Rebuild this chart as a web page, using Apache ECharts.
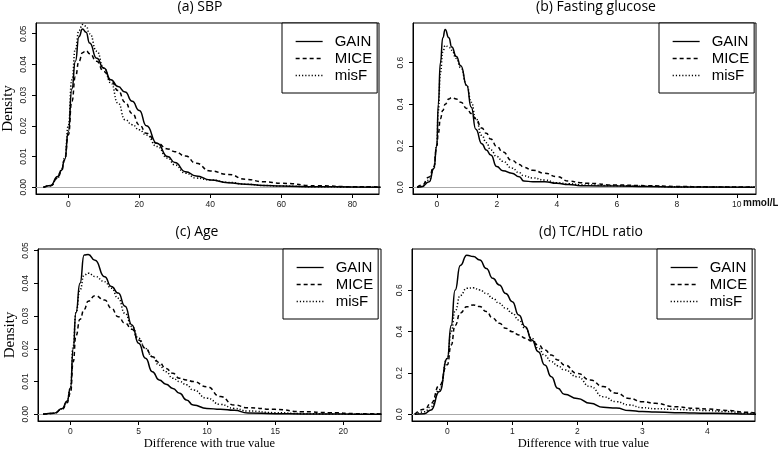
<!DOCTYPE html>
<html>
<head>
<meta charset="utf-8">
<script src="https://cdn.jsdelivr.net/npm/echarts@6/dist/echarts.min.js"></script>
<style>html,body{margin:0;padding:0;background:#fff}#c{width:778px;height:451px}</style>
</head>
<body>
<div id="c"></div>
<script>
// ---- (a) SBP ----
const sbpX    = [-7,-5,-3,-2,-1,0,1,2,3,4,5,6,8,10,12,14,16,18,20,22,25,28,30,33,36,40,45,50,55,60,70,80,88];
const sbpGAIN = [0,0.0006,0.0035,0.0055,0.009,0.018,0.032,0.041,0.049,0.0515,0.0505,0.047,0.042,0.0388,0.035,0.0328,0.031,0.028,0.025,0.020,0.0143,0.010,0.0081,0.0051,0.0037,0.0024,0.0015,0.001,0.0006,0.0004,0.0002,0.0001,0];
const sbpMICE = [0,0.0005,0.003,0.005,0.009,0.017,0.028,0.036,0.041,0.0438,0.0445,0.0435,0.041,0.0377,0.0348,0.0315,0.0277,0.024,0.0203,0.0176,0.0143,0.0125,0.0116,0.0102,0.0078,0.0053,0.0042,0.0026,0.0018,0.0013,0.0005,0.0002,0.0001];
const sbpMisF = [0,0.0005,0.003,0.0055,0.0095,0.02,0.035,0.045,0.051,0.053,0.0525,0.050,0.0443,0.0388,0.034,0.0274,0.022,0.0204,0.0187,0.017,0.0133,0.0095,0.0073,0.0046,0.003,0.0024,0.0016,0.001,0.0006,0.0004,0.0002,0.0001,0];
// ---- (b) Fasting glucose ----
const gluX    = [-0.65,-0.5,-0.25,-0.1,0,0.05,0.12,0.2,0.28,0.4,0.5,0.65,0.8,1,1.15,1.3,1.5,1.65,1.8,2,2.2,2.5,2.75,2.9,3.2,3.6,4,4.4,4.8,5,6,7,8,9,10.6];
const gluGAIN = [0,0.003,0.027,0.09,0.2,0.4,0.6,0.72,0.76,0.72,0.675,0.63,0.585,0.49,0.385,0.28,0.21,0.18,0.155,0.1,0.08,0.068,0.051,0.03,0.027,0.027,0.019,0.013,0.008,0.007,0.006,0.004,0.002,0.001,0];
const gluMICE = [0,0.01,0.05,0.1,0.2,0.26,0.33,0.37,0.4,0.425,0.433,0.425,0.41,0.38,0.355,0.33,0.285,0.26,0.232,0.196,0.17,0.13,0.11,0.096,0.082,0.068,0.051,0.03,0.022,0.019,0.011,0.008,0.004,0.002,0.001];
const gluMisF = [0,0.005,0.035,0.09,0.2,0.37,0.55,0.65,0.683,0.675,0.66,0.62,0.575,0.49,0.41,0.332,0.25,0.215,0.18,0.148,0.125,0.093,0.07,0.055,0.045,0.035,0.022,0.017,0.012,0.011,0.008,0.005,0.002,0.001,0];
// ---- (c) Age ----
const ageX    = [-2,-1.2,-0.6,-0.25,0,0.2,0.4,0.7,1,1.3,1.8,2.5,3,3.5,4,4.5,5,5.5,6,6.5,7,7.5,8,8.5,9,10,11,12,13,15,17,19,21,22.8];
const ageGAIN = [0,0.0003,0.0018,0.004,0.008,0.02,0.031,0.04,0.0486,0.0488,0.047,0.042,0.039,0.037,0.033,0.0273,0.0217,0.0171,0.013,0.0105,0.0092,0.0079,0.0064,0.0044,0.0028,0.0018,0.0015,0.0012,0.0004,0.0002,0.0001,0.0001,0,0];
const ageMICE = [0,0.0003,0.0016,0.0035,0.0065,0.016,0.024,0.029,0.032,0.0345,0.0362,0.0349,0.0324,0.0298,0.0278,0.026,0.0227,0.0201,0.0176,0.0158,0.014,0.0125,0.011,0.0105,0.01,0.0084,0.0054,0.0028,0.002,0.0015,0.0008,0.0005,0.0002,0.0001];
const ageMisF = [0,0.0003,0.0017,0.004,0.008,0.021,0.031,0.038,0.0425,0.0431,0.0421,0.0405,0.0385,0.0354,0.0308,0.0268,0.0232,0.0201,0.0176,0.015,0.013,0.011,0.01,0.009,0.0074,0.0049,0.003,0.0018,0.001,0.0005,0.0002,0.0001,0,0];
// ---- (d) TC/HDL ratio ----
const tcX    = [-0.5,-0.35,-0.25,-0.12,0,0.06,0.12,0.2,0.3,0.4,0.5,0.6,0.7,0.8,0.9,1,1.1,1.2,1.3,1.4,1.5,1.6,1.7,1.8,2,2.2,2.4,2.6,2.8,3,3.2,3.5,3.8,4,4.3,4.6,4.75];
const tcGAIN = [0,0.003,0.021,0.11,0.27,0.43,0.6,0.72,0.77,0.763,0.747,0.706,0.658,0.626,0.585,0.545,0.48,0.424,0.36,0.303,0.239,0.182,0.126,0.097,0.077,0.053,0.034,0.03,0.018,0.013,0.011,0.008,0.006,0.005,0.004,0.002,0];
const tcMICE = [0,0.025,0.053,0.14,0.24,0.335,0.43,0.49,0.52,0.529,0.521,0.497,0.465,0.44,0.416,0.4,0.384,0.368,0.355,0.335,0.311,0.287,0.263,0.239,0.198,0.166,0.134,0.102,0.077,0.061,0.053,0.037,0.029,0.026,0.019,0.01,0.006];
const tcMisF = [0,0.012,0.037,0.12,0.27,0.4,0.5,0.575,0.61,0.612,0.602,0.585,0.561,0.537,0.513,0.489,0.456,0.416,0.368,0.319,0.285,0.255,0.235,0.215,0.182,0.134,0.085,0.061,0.045,0.032,0.027,0.024,0.021,0.018,0.013,0.005,0.003];

const methods = ['GAIN','MICE','misF'];
const titles = ['(a) SBP','(b) Fasting glucose','(c) Age','(d) TC/HDL ratio'];
const xTicks = [[0,20,40,60,80],[0,2,4,6,8,10],[0,5,10,15,20],[0,1,2,3,4]];
const yTicks = [[0,0.01,0.02,0.03,0.04,0.05],[0,0.2,0.4,0.6],[0,0.01,0.02,0.03,0.04,0.05],[0,0.2,0.4,0.6]];
const yDigits = [2,1,2,1];

const panels = [
  {x: sbpX, ys: [sbpGAIN, sbpMICE, sbpMisF]},
  {x: gluX, ys: [gluGAIN, gluMICE, gluMisF]},
  {x: ageX, ys: [ageGAIN, ageMICE, ageMisF]},
  {x: tcX,  ys: [tcGAIN,  tcMICE,  tcMisF]}
];

// layout (pixels)
const gridPos = [
  {left: 36,  top: 23,  width: 343, height: 171},
  {left: 413, top: 23,  width: 343, height: 171},
  {left: 38,  top: 249, width: 343, height: 172},
  {left: 412, top: 249, width: 343, height: 172}
];
const xRange = [[-9.1, 87.5],[-0.793, 10.64],[-2.38, 22.76],[-0.543, 4.734]];
const yRange = [[-0.00218, 0.05348],[-0.0323, 0.7911],[-0.00205, 0.05047],[-0.0324, 0.7998]];
const legendPos = [{left: 282, top: 23},{left: 659, top: 23},{left: 283, top: 249},{left: 657, top: 249}];
const titlePos = [[200, 0],[596, 0],[197, 225],[591, 225]];

const lineTypes = ['solid', [4, 3], [1.2, 2]];
const tickFont = '"Liberation Sans Narrow", "Liberation Sans", Arial, sans-serif';

const grids = [], xAxes = [], yAxes = [], series = [], legends = [], graphics = [];
panels.forEach((p, i) => {
  grids.push(Object.assign({show: true, borderColor: '#000', borderWidth: 1, backgroundColor: 'transparent', containLabel: false, outerBoundsMode: 'none'}, gridPos[i]));
  xAxes.push({
    type: 'value', gridIndex: i, min: xRange[i][0], max: xRange[i][1],
    axisLine: {show: true, onZero: false, lineStyle: {color: '#000', width: 1}},
    axisTick: {show: true, length: 4, customValues: xTicks[i], lineStyle: {color: '#000'}},
    axisLabel: {customValues: xTicks[i], margin: 6, fontSize: 8.5, color: '#222', fontFamily: tickFont},
    splitLine: {show: false},
    name: i >= 2 ? 'Difference with true value' : '',
    nameLocation: 'middle', nameGap: 8,
    nameTextStyle: {fontFamily: '"Liberation Serif", "Times New Roman", serif', fontSize: 12.5, color: '#000'}
  });
  yAxes.push({
    type: 'value', gridIndex: i, min: yRange[i][0], max: yRange[i][1],
    axisLine: {show: true, onZero: false, lineStyle: {color: '#000', width: 1}},
    axisTick: {show: true, length: 4, customValues: yTicks[i], lineStyle: {color: '#000'}},
    axisLabel: {customValues: yTicks[i], rotate: 90, margin: 8, fontSize: 8.5, color: '#222', fontFamily: tickFont,
      formatter: v => Number(v).toFixed(yDigits[i])},
    splitLine: {show: false},
    name: (i === 0 || i === 2) ? 'Density' : '',
    nameLocation: 'middle', nameGap: 20, nameRotate: 90,
    nameTextStyle: {fontFamily: '"Liberation Serif", "Times New Roman", serif', fontSize: 15, color: '#000'}
  });
  methods.forEach((m, k) => {
    const s = {
      type: 'line', name: m, xAxisIndex: i, yAxisIndex: i,
      data: p.x.map((xv, j) => [xv, p.ys[k][j]]),
      symbol: 'none', smooth: 0.55, smoothMonotone: 'x', silent: true,
      lineStyle: {color: '#000', width: 1.5, type: lineTypes[k]},
      itemStyle: {color: '#000'}, z: 3
    };
    if (k === 0) {
      s.markLine = {silent: true, symbol: 'none', label: {show: false}, animation: false,
        lineStyle: {color: '#aaa', type: 'solid', width: 1}, data: [{yAxis: 0}], z: 1};
    }
    series.push(s);
  });
  legends.push({
    orient: 'vertical', left: legendPos[i].left, top: legendPos[i].top,
    data: methods, itemWidth: 27, itemHeight: 15, itemGap: 2,
    padding: [11, 5, 10, 13], borderColor: '#000', borderWidth: 1, borderRadius: 0,
    backgroundColor: '#fff', selectedMode: false,
    itemStyle: {opacity: 0},
    lineStyle: {width: 1.3},
    textStyle: {fontSize: 15, color: '#000', fontFamily: '"Liberation Sans", Arial, sans-serif', padding: [0, 0, 0, 7]}
  });
  graphics.push({
    type: 'text', x: titlePos[i][0], y: titlePos[i][1], silent: true,
    style: {text: titles[i], align: 'center', verticalAlign: 'top', fill: '#000',
      font: '14px "Open Sans", "Noto Sans", sans-serif'}
  });
});
graphics.push({
  type: 'text', x: 743, y: 198, silent: true,
  style: {text: 'mmol/L', align: 'left', verticalAlign: 'top', fill: '#111',
    font: 'bold 10px "Liberation Sans Narrow", "Liberation Sans", Arial, sans-serif'}
});

const chart = echarts.init(document.getElementById('c'), null, {renderer: 'canvas'});
chart.setOption({
  animation: false,
  backgroundColor: '#fff',
  grid: grids, xAxis: xAxes, yAxis: yAxes, series: series, legend: legends, graphic: graphics
});
</script>
</body>
</html>
